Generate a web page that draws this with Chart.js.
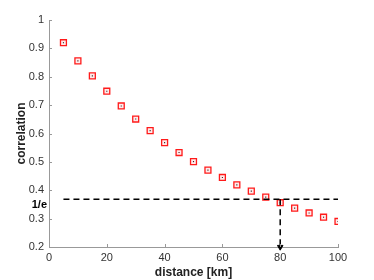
<!DOCTYPE html>
<html>
<head>
<meta charset="utf-8">
<script src="https://cdn.jsdelivr.net/npm/chart.js@4"></script>
<style>
  html, body { margin: 0; padding: 0; background: #fff; }
  #wrap { width: 374px; height: 280px; }
</style>
</head>
<body>
<div id="wrap"><canvas id="chart" width="374" height="280"></canvas></div>
<script>
// values
const distance = [5, 10, 15, 20, 25, 30, 35, 40, 45, 50, 55, 60, 65, 70, 75, 80, 85, 90, 95, 100];
const correlation = [0.920, 0.856, 0.803, 0.749, 0.697, 0.651, 0.610, 0.568, 0.533, 0.501,
                     0.471, 0.445, 0.419, 0.397, 0.376, 0.356, 0.337, 0.320, 0.305, 0.290];
const xTicks = [0, 20, 40, 60, 80, 100];
const yTicks = [0.2, 0.3, 0.4, 0.5, 0.6, 0.7, 0.8, 0.9, 1];
const invE = 1 / Math.E;
const hLineX = [5, 100];      // horizontal 1/e guide
const arrowX = 80;            // distance where corr drops to 1/e

const points = distance.map((d, i) => ({ x: d, y: correlation[i] }));

// inward tick marks + "1/e" label (MATLAB style)
const matlabAxes = {
    id: 'matlabAxes',
    afterDraw(chart) {
        const { ctx, scales: { x, y } } = chart;
        ctx.save();
        ctx.strokeStyle = '#999';
        ctx.lineWidth = 1;
        ctx.beginPath();
        xTicks.forEach(v => {
            const px = Math.round(x.getPixelForValue(v)) + 0.5;
            ctx.moveTo(px, y.bottom);
            ctx.lineTo(px, y.bottom - 3);
        });
        yTicks.forEach(v => {
            const py = Math.round(y.getPixelForValue(v)) + 0.5;
            ctx.moveTo(x.left, py);
            ctx.lineTo(x.left + 3, py);
        });
        ctx.stroke();

        ctx.fillStyle = '#000';
        ctx.font = 'bold 11px "Liberation Sans", Arial, sans-serif';
        ctx.textAlign = 'right';
        ctx.textBaseline = 'middle';
        ctx.fillText('1/e', x.left - 2, y.getPixelForValue(invE) + 6);
        ctx.restore();
    }
};

const ctx = document.getElementById('chart').getContext('2d');
new Chart(ctx, {
    type: 'scatter',
    data: {
        datasets: [
            {
                data: [{ x: hLineX[0], y: invE }, { x: hLineX[1], y: invE }],
                showLine: true,
                borderColor: '#000',
                borderWidth: 1.5,
                borderDash: [6, 4],
                pointRadius: 0
            },
            {
                data: [{ x: arrowX, y: invE }, { x: arrowX, y: yTicks[0] }],
                showLine: true,
                clip: false,
                borderColor: '#000',
                borderWidth: 1.5,
                borderDash: [6, 4],
                pointRadius: [0, 3.2],
                pointStyle: 'triangle',
                pointRotation: 180,
                pointBackgroundColor: '#000',
                pointBorderColor: '#000',
                pointBorderWidth: 1
            },
            {
                data: points,
                pointStyle: 'rect',
                pointRadius: 4.2,
                borderColor: '#ff1a1a',
                backgroundColor: 'rgba(255,80,80,0.12)',
                borderWidth: 1.3
            },
            {
                data: points,
                pointStyle: 'rect',
                pointRadius: 0.8,
                borderColor: '#222',
                backgroundColor: '#222',
                borderWidth: 0
            }
        ]
    },
    options: {
        responsive: false,
        animation: false,
        events: [],
        layout: { padding: { top: 20, right: 36, left: 0, bottom: 0 } },
        plugins: { legend: { display: false }, tooltip: { enabled: false } },
        scales: {
            x: {
                type: 'linear',
                min: 0,
                max: 100,
                afterBuildTicks: s => { s.ticks = xTicks.map(v => ({ value: v })); },
                afterFit: s => { s.height = 33; },
                grid: { display: false, drawTicks: false },
                border: { display: true, color: '#999', width: 1 },
                ticks: {
                    color: '#333',
                    padding: 4,
                    maxRotation: 0,
                    font: { family: '"Liberation Sans", Arial, sans-serif', size: 11 }
                },
                title: {
                    display: true,
                    text: 'distance [km]',
                    color: '#222',
                    padding: { top: 0, bottom: 0 },
                    font: { family: '"Liberation Sans", Arial, sans-serif', size: 12, weight: 'bold', lineHeight: 1.2 }
                }
            },
            y: {
                type: 'linear',
                min: 0.2,
                max: 1,
                afterBuildTicks: s => { s.ticks = yTicks.map(v => ({ value: v })); },
                afterFit: s => { s.width = 49; },
                grid: { display: false, drawTicks: false },
                border: { display: true, color: '#999', width: 1 },
                ticks: {
                    color: '#333',
                    padding: 5,
                    callback: v => (v === 1 ? '1' : v.toFixed(1)),
                    font: { family: '"Liberation Sans", Arial, sans-serif', size: 11 }
                },
                title: {
                    display: true,
                    text: 'correlation',
                    color: '#222',
                    padding: { top: 14, bottom: 0 },
                    font: { family: '"Liberation Sans", Arial, sans-serif', size: 12, weight: 'bold', lineHeight: 1.2 }
                }
            }
        }
    },
    plugins: [matlabAxes]
});
</script>
</body>
</html>
